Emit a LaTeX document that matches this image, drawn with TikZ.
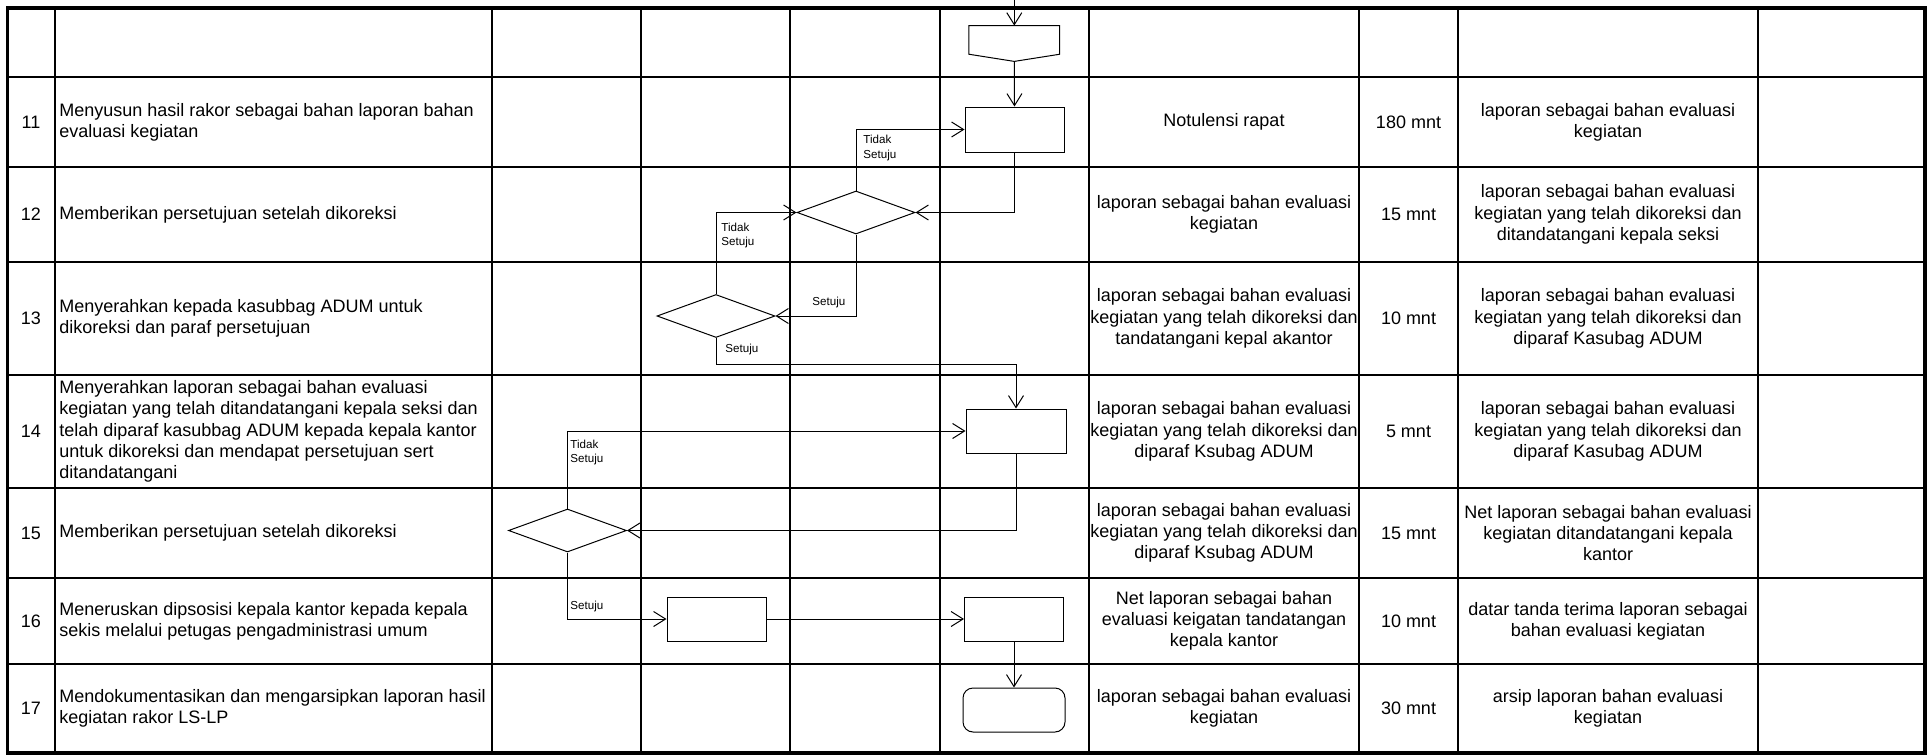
\documentclass[tikz,border=0pt]{standalone}
\usepackage{fontspec}
\setmainfont{Liberation Sans}
\usetikzlibrary{arrows.meta,shapes.geometric,calc}
\newcommand{\cellfont}{\fontsize{9pt}{10.6pt}\selectfont}
\newcommand{\lblfont}{\fontsize{5.8pt}{7pt}\selectfont}
\begin{document}
\begin{tikzpicture}[x=0.5pt,y=-0.5pt,
  tblline/.style={line width=1.3pt},
  tblborder/.style={line width=1.6pt},
  conn/.style={line width=0.5pt},
  flow/.style={line width=0.5pt,-{Straight Barb[length=6pt,width=7.5pt,line width=0.5pt]}},
  procbox/.style={draw,line width=0.5pt,minimum width=49.5pt,minimum height=22pt,inner sep=0pt},
  decbox/.style={draw,diamond,line width=0.5pt,minimum width=59pt,minimum height=21.5pt,inner sep=0pt},
  celltext/.style={font=\cellfont,align=center,inner sep=0pt},
  desctext/.style={font=\cellfont,align=left,anchor=west,inner sep=0pt},
  flowlbl/.style={font=\lblfont,align=left,anchor=west,inner sep=0pt}]
\fill[white] (0,0) rectangle (1928,755);
\useasboundingbox (0,0) rectangle (1928,755);

% table grid
\foreach \yy in {77,167,262,375,488,578,664} \draw[tblline] (7.5,\yy) -- (1925,\yy);
\foreach \xx in {55,492,641,790,940,1089,1359,1458,1758} \draw[tblline] (\xx,8) -- (\xx,753);
\draw[tblborder] (7.5,8) rectangle (1925,753);

% numbers
\node[celltext] (n11) at (31,122) {11};
\node[celltext] (n12) at (31,214.5) {12};
\node[celltext] (n13) at (31,318.5) {13};
\node[celltext] (n14) at (31,431.5) {14};
\node[celltext] (n15) at (31,533) {15};
\node[celltext] (n16) at (31,621) {16};
\node[celltext] (n17) at (31,708.5) {17};

% descriptions
\node[desctext] (a11) at (59,122) {Menyusun hasil rakor sebagai bahan laporan bahan\\evaluasi kegiatan};
\node[desctext] (a12) at (59,214.5) {Memberikan persetujuan setelah dikoreksi};
\node[desctext] (a13) at (59,318.5) {Menyerahkan kepada kasubbag ADUM untuk\\dikoreksi dan paraf persetujuan};
\node[desctext] (a14) at (59,431.5) {Menyerahkan laporan sebagai bahan evaluasi\\kegiatan yang telah ditandatangani kepala seksi dan\\telah diparaf kasubbag ADUM kepada kepala kantor\\untuk dikoreksi dan mendapat persetujuan sert\\ditandatangani};
\node[desctext] (a15) at (59,533) {Memberikan persetujuan setelah dikoreksi};
\node[desctext] (a16) at (59,621) {Meneruskan dipsosisi kepala kantor kepada kepala\\sekis melalui petugas pengadministrasi umum};
\node[desctext] (a17) at (59,708.5) {Mendokumentasikan dan mengarsipkan laporan hasil\\kegiatan rakor LS-LP};

% inputs
\node[celltext] (i11) at (1224,122) {Notulensi rapat};
\node[celltext] (i12) at (1224,214.5) {laporan sebagai bahan evaluasi\\kegiatan};
\node[celltext] (i13) at (1224,318.5) {laporan sebagai bahan evaluasi\\kegiatan yang telah dikoreksi dan\\tandatangani kepal akantor};
\node[celltext] (i14) at (1224,431.5) {laporan sebagai bahan evaluasi\\kegiatan yang telah dikoreksi dan\\diparaf Ksubag ADUM};
\node[celltext] (i15) at (1224,533) {laporan sebagai bahan evaluasi\\kegiatan yang telah dikoreksi dan\\diparaf Ksubag ADUM};
\node[celltext] (i16) at (1224,621) {Net laporan sebagai bahan\\evaluasi keigatan tandatangan\\kepala kantor};
\node[celltext] (i17) at (1224,708.5) {laporan sebagai bahan evaluasi\\kegiatan};

% times
\node[celltext] (w11) at (1408.5,122) {180 mnt};
\node[celltext] (w12) at (1408.5,214.5) {15 mnt};
\node[celltext] (w13) at (1408.5,318.5) {10 mnt};
\node[celltext] (w14) at (1408.5,431.5) {5 mnt};
\node[celltext] (w15) at (1408.5,533) {15 mnt};
\node[celltext] (w16) at (1408.5,621) {10 mnt};
\node[celltext] (w17) at (1408.5,708.5) {30 mnt};

% outputs
\node[celltext] (o11) at (1608,122) {laporan sebagai bahan evaluasi\\kegiatan};
\node[celltext] (o12) at (1608,214.5) {laporan sebagai bahan evaluasi\\kegiatan yang telah dikoreksi dan\\ditandatangani kepala seksi};
\node[celltext] (o13) at (1608,318.5) {laporan sebagai bahan evaluasi\\kegiatan yang telah dikoreksi dan\\diparaf Kasubag ADUM};
\node[celltext] (o14) at (1608,431.5) {laporan sebagai bahan evaluasi\\kegiatan yang telah dikoreksi dan\\diparaf Kasubag ADUM};
\node[celltext] (o15) at (1608,533) {Net laporan sebagai bahan evaluasi\\kegiatan ditandatangani kepala\\kantor};
\node[celltext] (o16) at (1608,621) {datar tanda terima laporan sebagai\\bahan evaluasi kegiatan};
\node[celltext] (o17) at (1608,708.5) {arsip laporan bahan evaluasi\\kegiatan};

% flow shapes
\node[inner sep=0pt,minimum width=45pt,minimum height=17.5pt] (off) at (1014.3,43.5) {};
\draw[conn] (off.north west) -- (off.north east) -- ($(off.north east)!0.8!(off.south east)$) -- (off.south) -- ($(off.north west)!0.8!(off.south west)$) -- cycle;
\node[procbox,minimum height=22.5pt] (r11) at (1014.5,129.5) {};
\node[decbox] (d12) at (856,212.5) {};
\node[decbox] (d13) at (716,316) {};
\node[procbox,minimum width=50pt] (r14) at (1016,431) {};
\node[decbox] (d15) at (567.5,530.5) {};
\node[procbox] (r16a) at (716.5,619) {};
\node[procbox] (r16b) at (1014,619) {};
\node[procbox,rounded corners=5pt,minimum width=51pt] (term) at (1014,710) {};

% connectors
\coordinate (topin) at (1014.3,0);
\draw[flow] (topin) -- (off.north);
\draw[flow] (off.south) -- (r11.north);
\draw[flow] (d12.north) |- (r11.west);
\draw[flow] (r11.south) |- (d12.east);
\draw[flow] (d13.north) |- (d12.west);
\draw[flow] (d12.south) |- (d13.east);
\draw[flow] (d13.south) -- ++(0,26) -| (r14.north);
\draw[flow] (d15.north) |- (r14.west);
\draw[flow] (r14.south) |- (d15.east);
\draw[flow] (d15.south) |- (r16a.west);
\draw[flow] (r16a.east) -- (r16b.west);
\draw[flow] (r16b.south) -- (term.north);

% connector labels
\node[flowlbl] (t1) at (863,148) {Tidak\\Setuju};
\node[flowlbl] (t2) at (721,235) {Tidak\\Setuju};
\node[flowlbl] (s1) at (812,302) {Setuju};
\node[flowlbl] (s2) at (725,349) {Setuju};
\node[flowlbl] (t3) at (570,452) {Tidak\\Setuju};
\node[flowlbl] (s3) at (570,606) {Setuju};
\end{tikzpicture}
\end{document}
